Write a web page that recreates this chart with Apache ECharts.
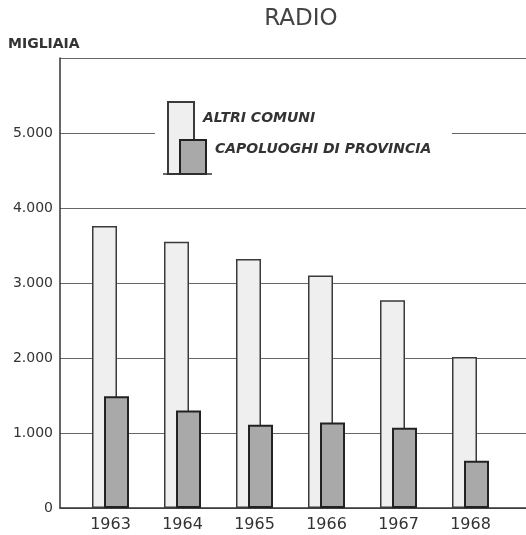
<!DOCTYPE html>
<html>
<head>
<meta charset="utf-8">
<script src="https://cdn.jsdelivr.net/npm/echarts@6/dist/echarts.min.js"></script>
<style>
html,body{margin:0;padding:0;background:#fff;}
#chart{width:526px;height:535px;}
</style>
</head>
<body>
<div id="chart"></div>
<script>
const years = ['1963', '1964', '1965', '1966', '1967', '1968'];
const altriComuni = [3760, 3550, 3320, 3100, 2770, 2015];
const capoluoghi = [1490, 1300, 1110, 1140, 1070, 630];
const yTickLabels = ['0', '1.000', '2.000', '3.000', '4.000', '5.000', ''];
const seriesNames = ['ALTRI COMUNI', 'CAPOLUOGHI DI PROVINCIA'];

const chart = echarts.init(document.getElementById('chart'), null, {renderer: 'canvas'});

const legendText = function (spacer) {
  return {
    fontFamily: 'DejaVu Sans',
    fontStyle: 'italic',
    fontWeight: 'bold',
    fontSize: 14,
    color: '#333',
    rich: {
      t: {
        fontFamily: 'DejaVu Sans', fontStyle: 'italic', fontWeight: 'bold',
        fontSize: 14, color: '#333', lineHeight: 17, padding: [0, 0, 0, 4]
      },
      s: {fontSize: 10, lineHeight: spacer, height: spacer}
    }
  };
};

chart.setOption({
  animation: false,
  backgroundColor: '#fff',
  title: [
    {
      text: 'RADIO',
      left: 296,
      textAlign: 'center',
      top: 3,
      textStyle: {fontFamily: 'DejaVu Sans', fontWeight: 'normal', fontSize: 23, color: '#444'}
    },
    {
      text: 'MIGLIAIA',
      left: 8,
      top: 37,
      padding: 0,
      textStyle: {fontFamily: 'DejaVu Sans', fontWeight: 'bold', fontSize: 14, color: '#333'}
    }
  ],
  grid: [
    {left: 60, right: 0, top: 58, bottom: 27, containLabel: false},
    {left: 74.5, right: 19.5, top: 58, bottom: 27, containLabel: false}
  ],
  xAxis: [
    {
      gridIndex: 0, type: 'value', min: 0, max: 1,
      axisLine: {show: true, onZero: false, lineStyle: {color: '#333', width: 1.5}},
      axisTick: {show: false}, axisLabel: {show: false}, splitLine: {show: false}
    },
    {
      gridIndex: 1, type: 'category', data: years,
      axisLine: {show: false}, axisTick: {show: false}, splitLine: {show: false},
      axisLabel: {margin: 9, fontFamily: 'DejaVu Sans', fontSize: 16, color: '#333'}
    }
  ],
  yAxis: [
    {
      gridIndex: 0, type: 'value', min: 0, max: 6000, interval: 1000,
      axisLine: {show: true, lineStyle: {color: '#333', width: 1.5}},
      axisTick: {show: false},
      splitLine: {show: true, lineStyle: {color: '#666', width: 1}},
      axisLabel: {
        margin: 7, fontFamily: 'DejaVu Sans', fontSize: 14, color: '#333',
        formatter: function (v) { return yTickLabels[Math.round(v / 1000)]; }
      }
    },
    {
      gridIndex: 1, type: 'value', min: 0, max: 6000, interval: 1000,
      show: false
    }
  ],
  legend: [
    {
      data: [seriesNames[0]], left: 167, top: 101, padding: 0,
      itemWidth: 26, itemHeight: 72, icon: 'rect', selectedMode: false,
      formatter: '{t|{name}}\n{s| }',
      textStyle: legendText(40)
    },
    {
      data: [seriesNames[1]], left: 179, top: 139, padding: 0,
      itemWidth: 26, itemHeight: 34, icon: 'rect', selectedMode: false,
      formatter: '{t|{name}}\n{s| }',
      textStyle: legendText(16)
    }
  ],
  graphic: [
    {type: 'rect', z: 1, silent: true, shape: {x: 155, y: 90, width: 297, height: 88}, style: {fill: '#fff'}},
    {type: 'line', z: 10, silent: true, shape: {x1: 163, y1: 174, x2: 212, y2: 174}, style: {stroke: '#333', lineWidth: 1.5}}
  ],
  series: [
    {
      name: seriesNames[0], type: 'bar', xAxisIndex: 1, yAxisIndex: 1,
      data: altriComuni, barWidth: 25, barGap: '-52%',
      itemStyle: {color: '#efefef', borderColor: '#3a3a3a', borderWidth: 1.5}
    },
    {
      name: seriesNames[1], type: 'bar', xAxisIndex: 1, yAxisIndex: 1,
      data: capoluoghi, barWidth: 25, barGap: '-52%',
      itemStyle: {color: '#a9a9a9', borderColor: '#222', borderWidth: 2}
    }
  ]
});
</script>
</body>
</html>
